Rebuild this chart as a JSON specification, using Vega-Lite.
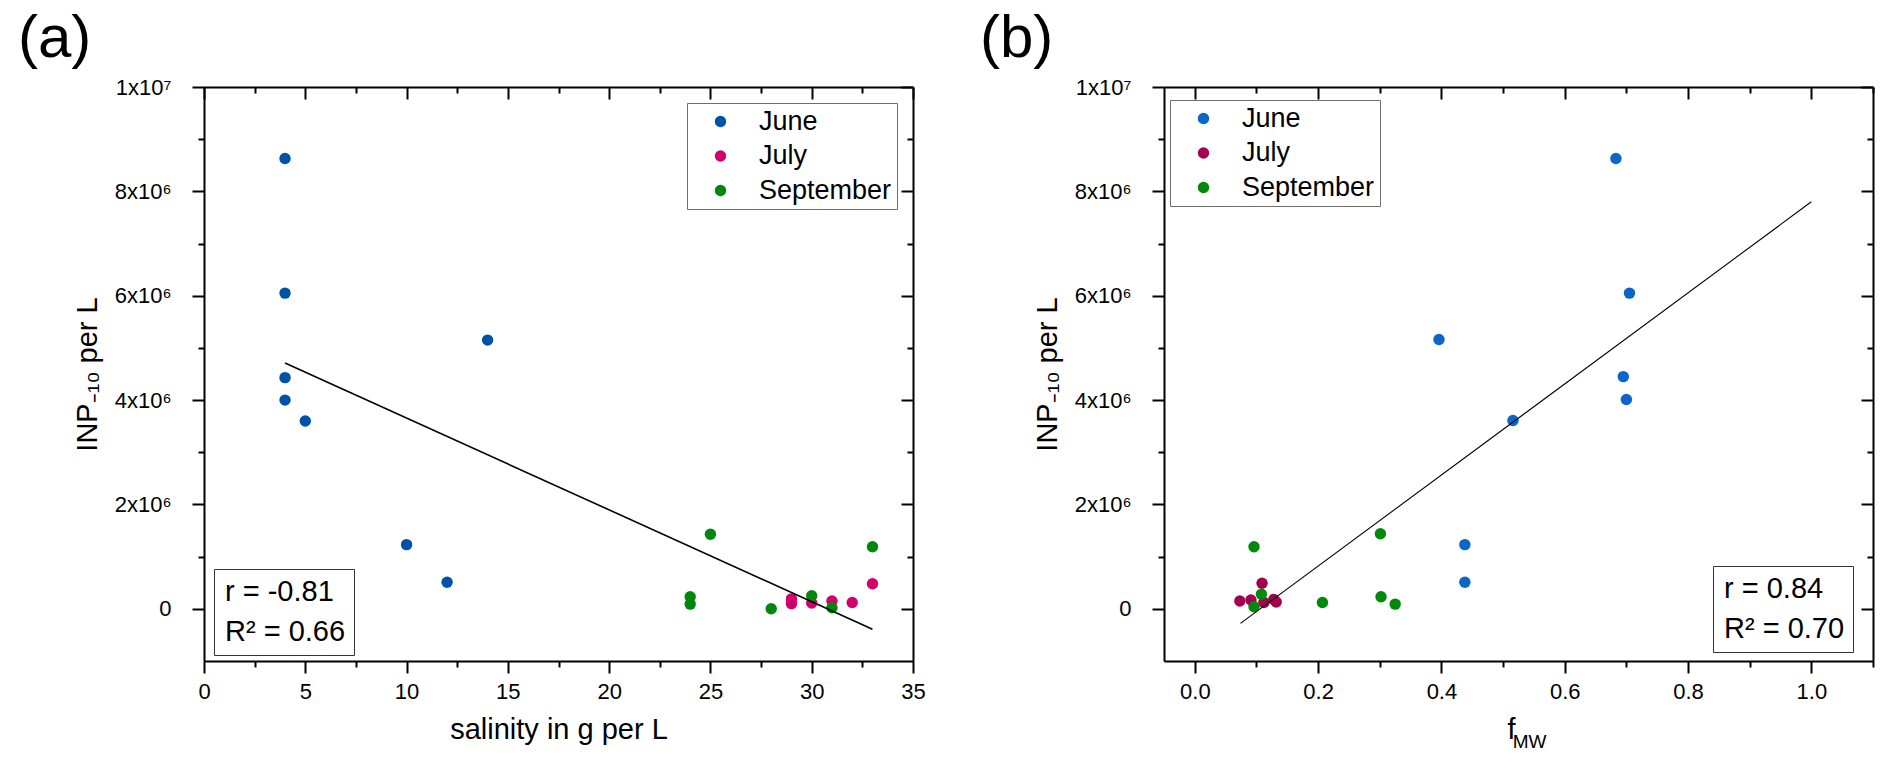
{
  "$schema": "https://vega.github.io/schema/vega-lite/v6.json",
  "description": "INP-10 per L against salinity (a) and meltwater fraction (b)",
  "background": "white",
  "padding": {"left": 18, "top": 9, "right": 10, "bottom": 10},
  "config": {
    "font": "Liberation Sans",
    "view": {"stroke": null},
    "axis": {
      "grid": false,
      "labelFont": "Liberation Sans",
      "titleFont": "Liberation Sans",
      "labelFontSize": 22,
      "titleFontSize": 29,
      "titleFontWeight": "normal",
      "labelColor": "black",
      "titleColor": "black",
      "domainColor": "black",
      "domainWidth": 2,
      "tickColor": "black",
      "tickWidth": 2,
      "labelFlush": false,
      "labelOverlap": false
    },
    "legend": {
      "labelFont": "Liberation Sans",
      "labelColor": "black",
      "fillColor": "white"
    }
  },
  "bounds": "flush",
  "spacing": 251,
  "resolve": {
    "scale": {"color": "independent", "shape": "independent", "x": "independent", "y": "independent"},
    "legend": {"color": "independent", "shape": "independent"}
  },
  "hconcat": [
    {
      "width": 709,
      "height": 574,
      "title": {"text": "(a)", "anchor": "start", "frame": "group", "dx": -186, "offset": -41, "baseline": "alphabetic", "font": "Liberation Sans", "fontSize": 60, "fontWeight": "normal", "color": "black"},
      "layer": [
        {
          "data": {"values": [
            {"month": "June", "salinity": 4, "inp": 8630000},
            {"month": "June", "salinity": 4, "inp": 6050000},
            {"month": "June", "salinity": 4, "inp": 4430000},
            {"month": "June", "salinity": 4, "inp": 4000000},
            {"month": "June", "salinity": 5, "inp": 3600000},
            {"month": "June", "salinity": 14, "inp": 5150000},
            {"month": "June", "salinity": 10, "inp": 1230000},
            {"month": "June", "salinity": 12, "inp": 510000},
            {"month": "July", "salinity": 33, "inp": 480000},
            {"month": "July", "salinity": 29, "inp": 190000},
            {"month": "July", "salinity": 29, "inp": 100000},
            {"month": "July", "salinity": 30, "inp": 110000},
            {"month": "July", "salinity": 31, "inp": 150000},
            {"month": "July", "salinity": 32, "inp": 120000},
            {"month": "September", "salinity": 25, "inp": 1430000},
            {"month": "September", "salinity": 33, "inp": 1190000},
            {"month": "September", "salinity": 24, "inp": 230000},
            {"month": "September", "salinity": 24, "inp": 90000},
            {"month": "September", "salinity": 28, "inp": 0},
            {"month": "September", "salinity": 30, "inp": 250000},
            {"month": "September", "salinity": 31, "inp": 20000}
          ]},
          "mark": {"type": "circle", "size": 130, "opacity": 1},
          "encoding": {
            "x": {
              "field": "salinity", "type": "quantitative",
              "scale": {"domain": [0, 35], "nice": false, "zero": false},
              "axis": {
                "orient": "bottom",
                "values": [0, 2.5, 5, 7.5, 10, 12.5, 15, 17.5, 20, 22.5, 25, 27.5, 30, 32.5, 35],
                "labelExpr": "datum.value % 5 === 0 ? format(datum.value, 'd') : ''",
                "tickSize": {"condition": {"test": "datum.value % 5 === 0", "value": 12}, "value": 6},
                "labelPadding": 8,
                "title": "salinity in g per L",
                "titlePadding": 13
              }
            },
            "y": {
              "field": "inp", "type": "quantitative",
              "scale": {"domain": [-1000000, 10000000], "nice": false, "zero": false},
              "axis": {
                "orient": "left",
                "values": [0, 1000000, 2000000, 3000000, 4000000, 5000000, 6000000, 7000000, 8000000, 9000000, 10000000],
                "labelExpr": "datum.value === 0 ? '0' : datum.value === 10000000 ? '1x10⁷' : datum.value % 2000000 === 0 ? format(datum.value / 1000000, 'd') + 'x10⁶' : ''",
                "tickSize": {"condition": {"test": "datum.value % 2000000 === 0", "value": 12}, "value": 6},
                "labelPadding": 21,
                "title": "INP₋₁₀ per L",
                "titlePadding": 12
              }
            },
            "color": {
              "field": "month", "type": "nominal",
              "scale": {"domain": ["June", "July", "September"], "range": ["#0052a6", "#d3006b", "#00880c"]},
              "legend": {
                "orient": "none", "legendX": 483, "legendY": 16,
                "title": null, "labelFontSize": 27,
                "padding": 5, "symbolOffset": 15, "labelOffset": 25, "rowPadding": 6.5,
                "symbolType": "circle", "symbolSize": 130,
                "strokeColor": "#6e6e6e"
              }
            }
          }
        },
        {
          "data": {"values": [
            {"x": 4, "y": 4710000},
            {"x": 33, "y": -390000}
          ]},
          "mark": {"type": "line", "color": "black", "strokeWidth": 1.6},
          "encoding": {
            "x": {
              "field": "x", "type": "quantitative",
              "scale": {"domain": [0, 35], "nice": false, "zero": false},
              "axis": {
                "orient": "top", "labels": false, "title": null,
                "values": [0, 2.5, 5, 7.5, 10, 12.5, 15, 17.5, 20, 22.5, 25, 27.5, 30, 32.5, 35],
                "tickSize": {"condition": {"test": "datum.value % 5 === 0", "value": -12}, "value": -6}
              }
            },
            "y": {
              "field": "y", "type": "quantitative",
              "scale": {"domain": [-1000000, 10000000], "nice": false, "zero": false},
              "axis": {
                "orient": "right", "labels": false, "title": null,
                "values": [0, 1000000, 2000000, 3000000, 4000000, 5000000, 6000000, 7000000, 8000000, 9000000, 10000000],
                "tickSize": {"condition": {"test": "datum.value % 2000000 === 0", "value": -12}, "value": -6}
              }
            }
          }
        },
        {
          "data": {"values": [
            {"stat": "r = -0.81"},
            {"stat": "R² = 0.66"}
          ]},
          "mark": {"type": "point", "opacity": 0},
          "encoding": {
            "shape": {
              "field": "stat", "type": "nominal",
              "scale": {"domain": ["r = -0.81", "R² = 0.66"]},
              "legend": {
                "orient": "none", "legendX": 10, "legendY": 482,
                "title": null, "labelFontSize": 29,
                "padding": 8, "symbolSize": 0, "symbolOpacity": 0, "labelOffset": -26, "rowPadding": 10,
                "strokeColor": "#333333"
              }
            }
          }
        }
      ],
      "resolve": {"axis": {"x": "independent", "y": "independent"}}
    },
    {
      "width": 709,
      "height": 574,
      "title": {"text": "(b)", "anchor": "start", "frame": "group", "dx": -184, "offset": -41, "baseline": "alphabetic", "font": "Liberation Sans", "fontSize": 60, "fontWeight": "normal", "color": "black"},
      "layer": [
        {
          "data": {"values": [
            {"month": "June", "fmw": 0.683, "inp": 8630000},
            {"month": "June", "fmw": 0.705, "inp": 6050000},
            {"month": "June", "fmw": 0.396, "inp": 5160000},
            {"month": "June", "fmw": 0.695, "inp": 4450000},
            {"month": "June", "fmw": 0.700, "inp": 4010000},
            {"month": "June", "fmw": 0.516, "inp": 3610000},
            {"month": "June", "fmw": 0.438, "inp": 1230000},
            {"month": "June", "fmw": 0.438, "inp": 510000},
            {"month": "July", "fmw": 0.073, "inp": 150000},
            {"month": "July", "fmw": 0.091, "inp": 170000},
            {"month": "July", "fmw": 0.109, "inp": 490000},
            {"month": "July", "fmw": 0.112, "inp": 120000},
            {"month": "July", "fmw": 0.128, "inp": 180000},
            {"month": "July", "fmw": 0.132, "inp": 130000},
            {"month": "September", "fmw": 0.096, "inp": 1190000},
            {"month": "September", "fmw": 0.301, "inp": 1440000},
            {"month": "September", "fmw": 0.108, "inp": 280000},
            {"month": "September", "fmw": 0.096, "inp": 40000},
            {"month": "September", "fmw": 0.207, "inp": 120000},
            {"month": "September", "fmw": 0.302, "inp": 230000},
            {"month": "September", "fmw": 0.325, "inp": 90000}
          ]},
          "mark": {"type": "circle", "size": 130, "opacity": 1},
          "encoding": {
            "x": {
              "field": "fmw", "type": "quantitative",
              "scale": {"domain": [-0.05, 1.1], "nice": false, "zero": false},
              "axis": {
                "orient": "bottom",
                "values": [0, 0.1, 0.2, 0.3, 0.4, 0.5, 0.6, 0.7, 0.8, 0.9, 1.0, 1.1],
                "labelExpr": "round(datum.value * 10) % 2 === 0 && datum.value < 1.05 ? format(datum.value, '.1f') : ''",
                "tickSize": {"condition": {"test": "round(datum.value * 10) % 2 === 0", "value": 12}, "value": 6},
                "labelPadding": 8,
                "title": "f",
                "titleX": 347,
                "titlePadding": 13
              }
            },
            "y": {
              "field": "inp", "type": "quantitative",
              "scale": {"domain": [-1000000, 10000000], "nice": false, "zero": false},
              "axis": {
                "orient": "left",
                "values": [0, 1000000, 2000000, 3000000, 4000000, 5000000, 6000000, 7000000, 8000000, 9000000, 10000000],
                "labelExpr": "datum.value === 0 ? '0' : datum.value === 10000000 ? '1x10⁷' : datum.value % 2000000 === 0 ? format(datum.value / 1000000, 'd') + 'x10⁶' : ''",
                "tickSize": {"condition": {"test": "datum.value % 2000000 === 0", "value": 12}, "value": 6},
                "labelPadding": 21,
                "title": "INP₋₁₀ per L",
                "titlePadding": 12
              }
            },
            "color": {
              "field": "month", "type": "nominal",
              "scale": {"domain": ["June", "July", "September"], "range": ["#0a66c8", "#a3004f", "#008a0c"]},
              "legend": {
                "orient": "none", "legendX": 6, "legendY": 13,
                "title": null, "labelFontSize": 27,
                "padding": 5, "symbolOffset": 15, "labelOffset": 25, "rowPadding": 6.5,
                "symbolType": "circle", "symbolSize": 130,
                "strokeColor": "#6e6e6e"
              }
            }
          }
        },
        {
          "data": {"values": [
            {"x": 0.074, "y": -280000},
            {"x": 1.0, "y": 7800000}
          ]},
          "mark": {"type": "line", "color": "black", "strokeWidth": 1.1},
          "encoding": {
            "x": {
              "field": "x", "type": "quantitative",
              "scale": {"domain": [-0.05, 1.1], "nice": false, "zero": false},
              "axis": {
                "orient": "top", "labels": false,
                "values": [0, 0.1, 0.2, 0.3, 0.4, 0.5, 0.6, 0.7, 0.8, 0.9, 1.0, 1.1],
                "tickSize": {"condition": {"test": "round(datum.value * 10) % 2 === 0", "value": -12}, "value": -6},
                "title": "MW",
                "titleFontSize": 19,
                "titleBaseline": "alphabetic",
                "titleX": 365,
                "titleY": 660
              }
            },
            "y": {
              "field": "y", "type": "quantitative",
              "scale": {"domain": [-1000000, 10000000], "nice": false, "zero": false},
              "axis": {
                "orient": "right", "labels": false, "title": null,
                "values": [0, 1000000, 2000000, 3000000, 4000000, 5000000, 6000000, 7000000, 8000000, 9000000, 10000000],
                "tickSize": {"condition": {"test": "datum.value % 2000000 === 0", "value": -12}, "value": -6}
              }
            }
          }
        },
        {
          "data": {"values": [
            {"stat": "r = 0.84"},
            {"stat": "R² = 0.70"}
          ]},
          "mark": {"type": "point", "opacity": 0},
          "encoding": {
            "shape": {
              "field": "stat", "type": "nominal",
              "scale": {"domain": ["r = 0.84", "R² = 0.70"]},
              "legend": {
                "orient": "none", "legendX": 549, "legendY": 479,
                "title": null, "labelFontSize": 29,
                "padding": 8, "symbolSize": 0, "symbolOpacity": 0, "labelOffset": -26, "rowPadding": 10,
                "strokeColor": "#333333"
              }
            }
          }
        }
      ],
      "resolve": {"axis": {"x": "independent", "y": "independent"}}
    }
  ]
}
